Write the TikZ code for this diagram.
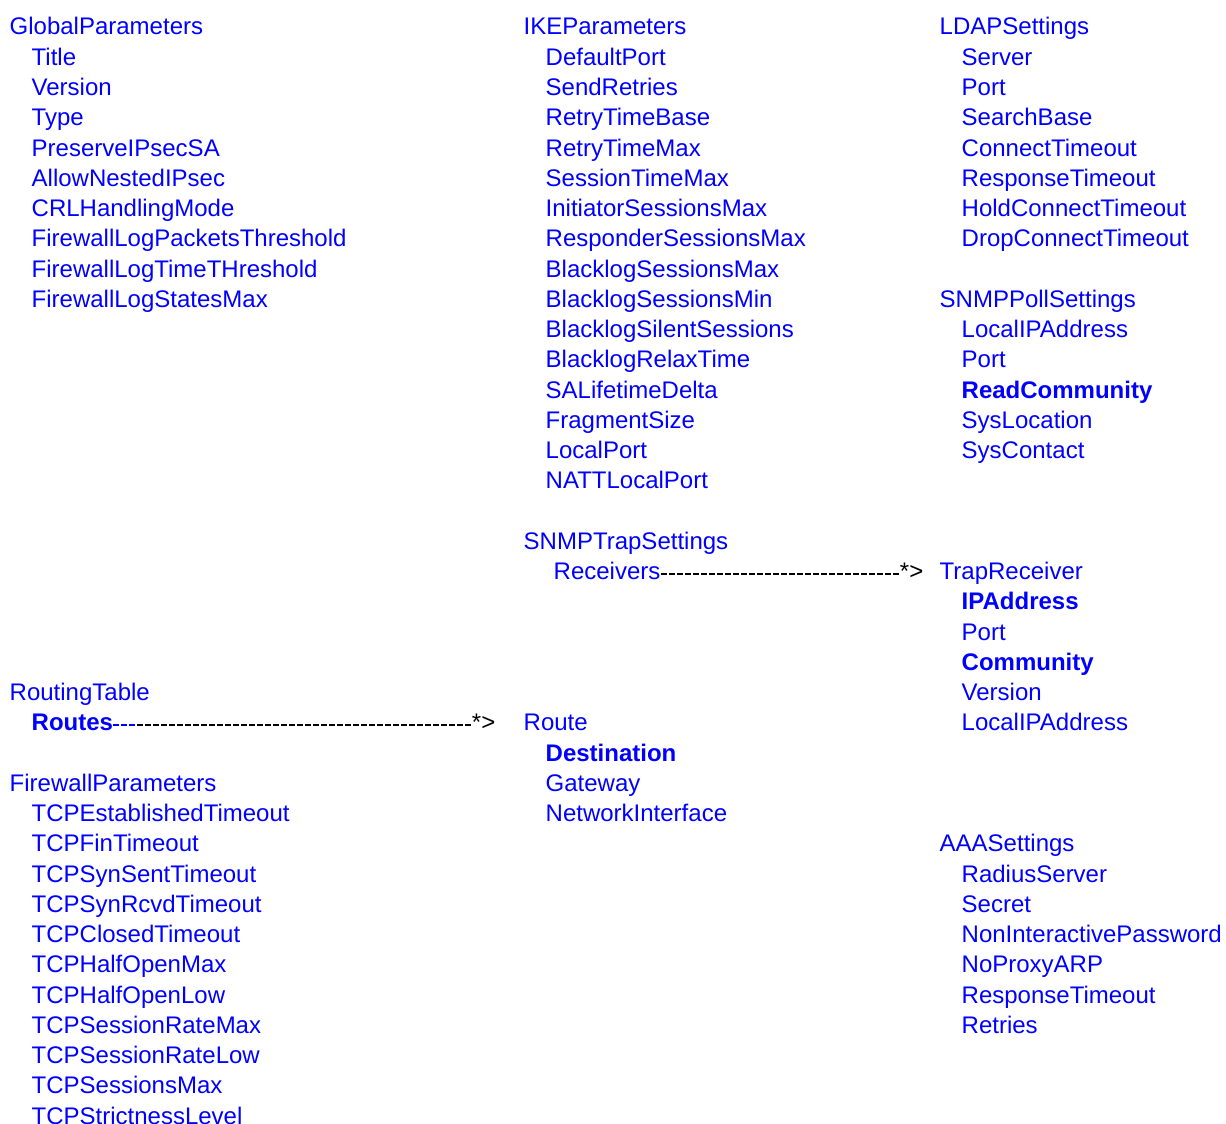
\documentclass[tikz,border=0pt]{standalone}
\usepackage{fontspec}
\setmainfont{Liberation Sans}
\usetikzlibrary{positioning}
\definecolor{FieldBlue}{HTML}{0000FF}

\begin{document}
\begin{tikzpicture}[
  x=1pt, y=-1pt,
  entry/.style={anchor=base west, inner sep=0pt, text=FieldBlue, font=\fontsize{24}{28}\selectfont},
  key/.style={entry, font=\fontsize{24}{28}\selectfont\bfseries},
  tip/.style={inner sep=0pt, text=black, font=\fontsize{24}{28}\selectfont},
  linkdash/.style={line width=2pt, dash pattern=on 6pt off 2pt}
]
\useasboundingbox (0,0) rectangle (1226,1124);

% left column
\node[entry] (global) at (9.5,35) {GlobalParameters};
\foreach \t [count=\i] in {Title,Version,Type,PreserveIPsecSA,AllowNestedIPsec,CRLHandlingMode,
  FirewallLogPacketsThreshold,FirewallLogTimeTHreshold,FirewallLogStatesMax}
  \node[entry] (global\i) at (31.5,{35+30.25*\i}) {\t};

\node[entry] (routing) at (9.5,{35+30.25*22}) {RoutingTable};
\node[key] (routes) at (31.5,{35+30.25*23}) {Routes};

\node[entry] (firewall) at (9.5,{35+30.25*25}) {FirewallParameters};
\foreach \t [count=\i] in {TCPEstablishedTimeout,TCPFinTimeout,TCPSynSentTimeout,TCPSynRcvdTimeout,
  TCPClosedTimeout,TCPHalfOpenMax,TCPHalfOpenLow,TCPSessionRateMax,TCPSessionRateLow,
  TCPSessionsMax,TCPStrictnessLevel}
  \node[entry] (firewall\i) at (31.5,{35+30.25*(\i+25)}) {\t};

% middle column
\node[entry] (ike) at (523.5,35) {IKEParameters};
\foreach \t [count=\i] in {DefaultPort,SendRetries,RetryTimeBase,RetryTimeMax,SessionTimeMax,
  InitiatorSessionsMax,ResponderSessionsMax,BlacklogSessionsMax,BlacklogSessionsMin,
  BlacklogSilentSessions,BlacklogRelaxTime,SALifetimeDelta,FragmentSize,LocalPort,NATTLocalPort}
  \node[entry] (ike\i) at (545.5,{35+30.25*\i}) {\t};

\node[entry] (trap) at (523.5,{35+30.25*17}) {SNMPTrapSettings};
\node[entry] (receivers) at (553.5,{35+30.25*18}) {Receivers};

\node[entry] (route) at (523.5,{35+30.25*23}) {Route};
\foreach \t [count=\i] in {\textbf{Destination},Gateway,NetworkInterface}
  \node[entry] (route\i) at (545.5,{35+30.25*(\i+23)}) {\t};

% right column
\node[entry] (ldap) at (939.5,35) {LDAPSettings};
\foreach \t [count=\i] in {Server,Port,SearchBase,ConnectTimeout,ResponseTimeout,
  HoldConnectTimeout,DropConnectTimeout}
  \node[entry] (ldap\i) at (961.5,{35+30.25*\i}) {\t};

\node[entry] (poll) at (939.5,{35+30.25*9}) {SNMPPollSettings};
\foreach \t [count=\i] in {LocalIPAddress,Port,\textbf{ReadCommunity},SysLocation,SysContact}
  \node[entry] (poll\i) at (961.5,{35+30.25*(\i+9)}) {\t};

\node[entry] (trapreceiver) at (939.5,{35+30.25*18}) {TrapReceiver};
\foreach \t [count=\i] in {\textbf{IPAddress},Port,\textbf{Community},Version,LocalIPAddress}
  \node[entry] (trapreceiver\i) at (961.5,{35+30.25*(\i+18)}) {\t};

\node[entry] (aaa) at (939.5,{35+30.25*27}) {AAASettings};
\foreach \t [count=\i] in {RadiusServer,Secret,NonInteractivePassword,NoProxyARP,
  ResponseTimeout,Retries}
  \node[entry] (aaa\i) at (961.5,{35+30.25*(\i+27)}) {\t};

% links
\node[tip, base left=28pt of route] (routestar) {*>};
\node[tip, base left=16pt of trapreceiver] (trapstar) {*>};

\coordinate (routesblue) at ([xshift=24pt,yshift=6pt]routes.base east);
\draw[linkdash, FieldBlue] ([yshift=6pt]routes.base east) -- (routesblue);
\draw[linkdash] (routesblue) -- ([yshift=6pt]routestar.base west);
\draw[linkdash] ([yshift=6pt]receivers.base east) -- ([yshift=6pt]trapstar.base west);
\end{tikzpicture}
\end{document}
